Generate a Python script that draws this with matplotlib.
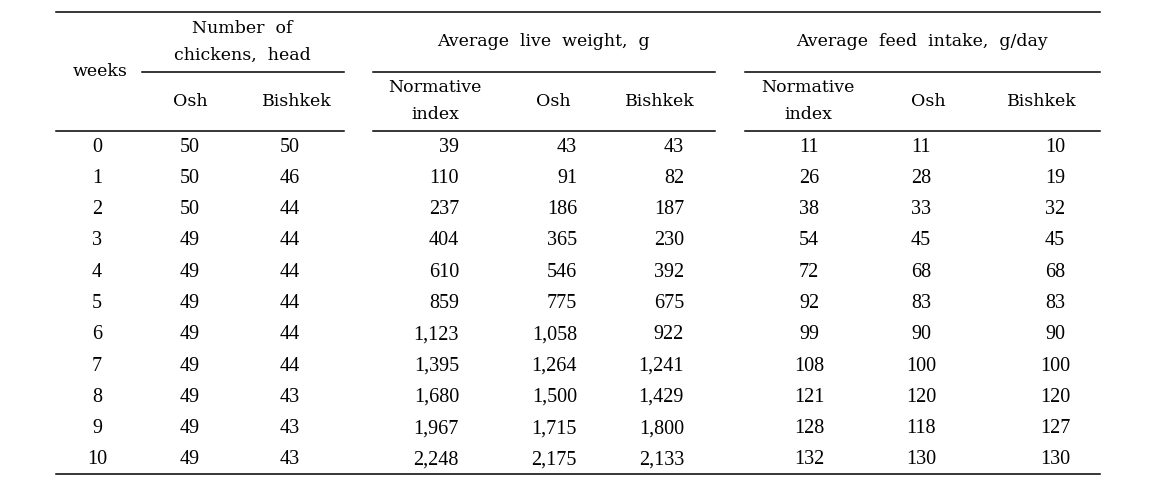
import matplotlib
matplotlib.use("Agg")
import matplotlib.pyplot as plt

weeks = [0, 1, 2, 3, 4, 5, 6, 7, 8, 9, 10]
chickens_osh = [50, 50, 50, 49, 49, 49, 49, 49, 49, 49, 49]
chickens_bishkek = [50, 46, 44, 44, 44, 44, 44, 44, 43, 43, 43]
weight_norm = [39, 110, 237, 404, 610, 859, 1123, 1395, 1680, 1967, 2248]
weight_osh = [43, 91, 186, 365, 546, 775, 1058, 1264, 1500, 1715, 2175]
weight_bishkek = [43, 82, 187, 230, 392, 675, 922, 1241, 1429, 1800, 2133]
feed_norm = [11, 26, 38, 54, 72, 92, 99, 108, 121, 128, 132]
feed_osh = [11, 28, 33, 45, 68, 83, 90, 100, 120, 118, 130]
feed_bishkek = [10, 19, 32, 45, 68, 83, 90, 100, 120, 127, 130]

group_titles = ["Number  of\nchickens,  head", "Average  live  weight,  g", "Average  feed  intake,  g/day"]
sub_headers = [["Osh", "Bishkek"],
               ["Normative\nindex", "Osh", "Bishkek"],
               ["Normative\nindex", "Osh", "Bishkek"]]

HEAD_FONT = ['DejaVu Serif']
NUM_FONT = ['Liberation Serif', 'DejaVu Serif']
HFS = 12.5
NFS = 14.5

fig = plt.figure(figsize=(11.7, 5.0), dpi=100)
ax = fig.add_axes([0, 0, 1, 1])
ax.set_xlim(0, 1170)
ax.set_ylim(500, 0)
ax.axis('off')

lw = 1.1
ax.plot([56, 1100], [12, 12], color='black', lw=lw)
for x0, x1 in [(142, 344), (373, 715), (745, 1100)]:
    ax.plot([x0, x1], [72, 72], color='black', lw=lw)
for x0, x1 in [(56, 344), (373, 715), (745, 1100)]:
    ax.plot([x0, x1], [131, 131], color='black', lw=lw)
ax.plot([56, 1100], [474, 474], color='black', lw=lw)

def h(x, y, s, ls=1.78):
    ax.text(x, y, s, ha='center', va='center', fontsize=HFS, family=HEAD_FONT,
            linespacing=ls)

def n(x, y, s, ha='center'):
    ax.text(x, y, s, ha=ha, va='center', fontsize=NFS, family=NUM_FONT)

h(100, 72, "weeks")
h(242, 42, group_titles[0])
h(543, 42, group_titles[1])
h(922, 42, group_titles[2])

h(190, 101, sub_headers[0][0])
h(297, 101, sub_headers[0][1])
h(435, 101, sub_headers[1][0])
h(553, 101, sub_headers[1][1])
h(660, 101, sub_headers[1][2])
h(808, 101, sub_headers[2][0])
h(928, 101, sub_headers[2][1])
h(1042, 101, sub_headers[2][2])

row_y0 = 147
row_dy = 31.3
for i, w in enumerate(weeks):
    y = row_y0 + i * row_dy
    n(97, y, str(w))
    n(190, y, str(chickens_osh[i]))
    n(290, y, str(chickens_bishkek[i]))
    n(459, y, f"{weight_norm[i]:,}", ha='right')
    n(577, y, f"{weight_osh[i]:,}", ha='right')
    n(684, y, f"{weight_bishkek[i]:,}", ha='right')
    n(809, y, str(feed_norm[i]))
    n(921, y, str(feed_osh[i]))
    n(1055, y, str(feed_bishkek[i]))

fig.savefig("out.png", dpi=100)
